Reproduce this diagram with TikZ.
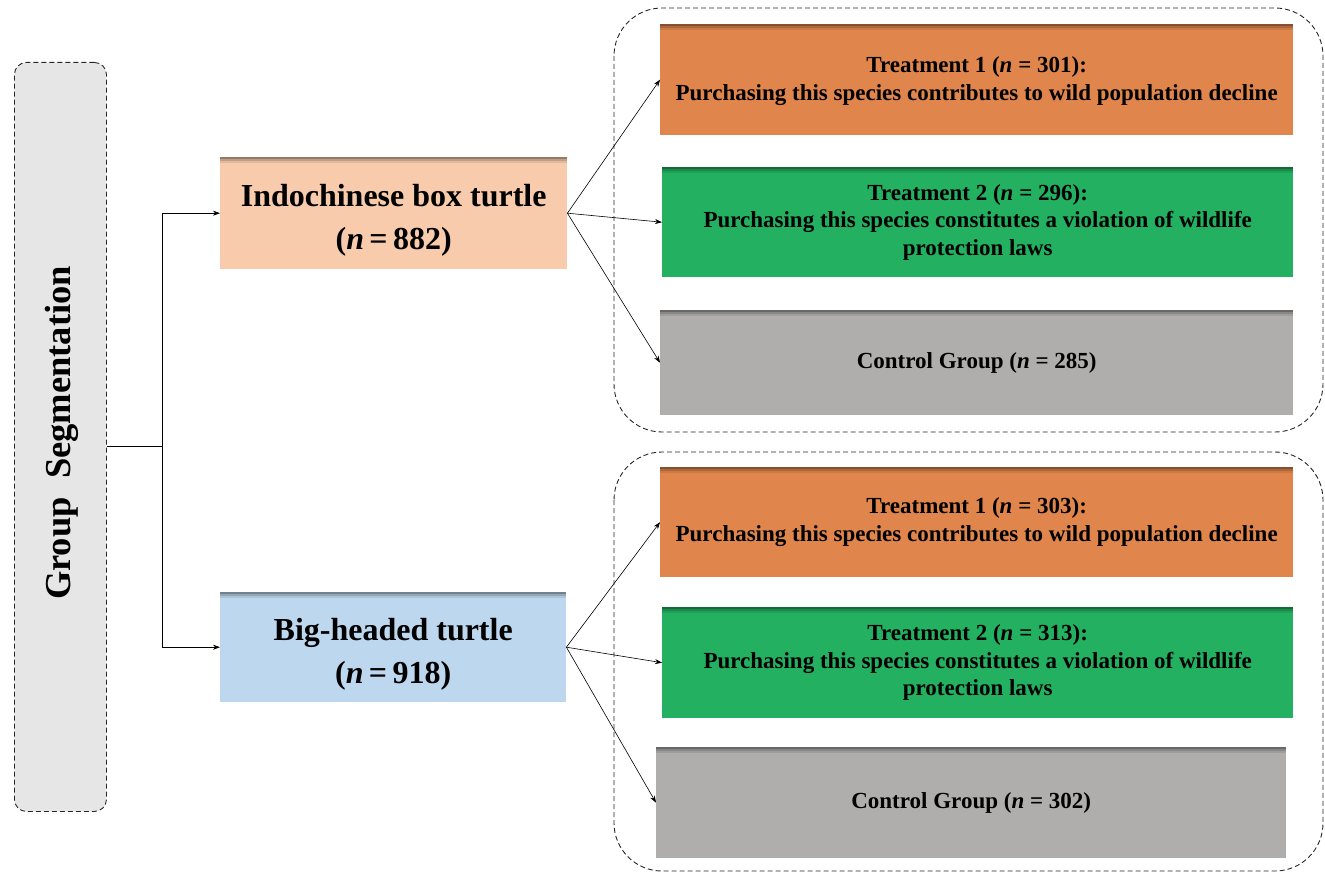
\documentclass[tikz,border=0pt]{standalone}
\usepackage{fontspec}
\setmainfont{Liberation Serif}
\usetikzlibrary{arrows.meta}
\definecolor{cOrange}{RGB}{224,133,76}
\definecolor{cGreen}{RGB}{35,176,96}
\definecolor{cGray}{RGB}{175,174,173}
\definecolor{cPeach}{RGB}{248,203,173}
\definecolor{cBlue}{RGB}{189,215,238}
\definecolor{cLeft}{RGB}{230,230,230}
\tikzset{
  box/.style={draw=none, fill=#1, inner sep=0pt, anchor=north west, align=center,
    path picture={
      \fill[black, opacity=0.40] (path picture bounding box.north west) rectangle ([yshift=-2pt]path picture bounding box.north east);
      \fill[black, opacity=0.22] ([yshift=-2pt]path picture bounding box.north west) rectangle ([yshift=-4pt]path picture bounding box.north east);
      \fill[black, opacity=0.09] ([yshift=-4pt]path picture bounding box.north west) rectangle ([yshift=-6pt]path picture bounding box.north east);}},
  tbox/.style={box=#1, font=\bfseries\fontsize{23}{27.5}\selectfont},
  sbox/.style={box=#1},
  stext/.style={align=center, inner sep=0pt, font=\bfseries\fontsize{32}{43}\selectfont},
  container/.style={draw=black!85, dash pattern=on 5pt off 3pt, line width=0.9pt, rounded corners=48pt},
  conn/.style={draw=black, line width=0.6pt, -{Stealth[length=7pt,width=5pt]}},
}
\begin{document}
\begin{tikzpicture}[x=1pt,y=-1pt]
\useasboundingbox (0,0) rectangle (1325,872);
% left box
\node[draw=black!85, dash pattern=on 5pt off 3pt, line width=0.9pt, fill=cLeft, rounded corners=12pt,
      minimum width=92pt, minimum height=749pt, anchor=north west, inner sep=0pt] (gs) at (14,62) {};
\node[rotate=90, font=\bfseries\fontsize{36.5}{40}\selectfont] (gst) at (62,433) {Group\ \ Segmentation};
% containers
\draw[container] (614,8) rectangle (1323,432);
\draw[container] (614,452) rectangle (1323,871);
% species boxes
\node[sbox=cPeach, minimum width=347pt, minimum height=112pt] (ind) at (220,157) {};
\node[stext] (indt) at ([yshift=-7pt]ind.center) {Indochinese box turtle\\(\textit{n}\,=\,882)};
\node[sbox=cBlue, minimum width=346pt, minimum height=110pt] (big) at (220,592) {};
\node[stext] (bigt) at ([yshift=-7pt]big.center) {Big-headed turtle\\(\textit{n}\,=\,918)};
% treatment boxes, top
\node[tbox=cOrange, minimum width=633pt, minimum height=111pt, text depth=2pt] (t1a) at (660,24)
  {Treatment 1 (\textit{n} = 301):\\Purchasing this species contributes to wild population decline};
\node[tbox=cGreen, minimum width=631pt, minimum height=110pt] (t2a) at (662,167)
  {Treatment 2 (\textit{n} = 296):\\Purchasing this species constitutes a violation of wildlife\\protection laws};
\node[tbox=cGray, minimum width=633pt, minimum height=105pt] (ca) at (660,310)
  {Control Group (\textit{n} = 285)};
% treatment boxes, bottom
\node[tbox=cOrange, minimum width=633pt, minimum height=110pt] (t1b) at (660,467)
  {Treatment 1 (\textit{n} = 303):\\Purchasing this species contributes to wild population decline};
\node[tbox=cGreen, minimum width=631pt, minimum height=111pt] (t2b) at (662,607)
  {Treatment 2 (\textit{n} = 313):\\Purchasing this species constitutes a violation of wildlife\\protection laws};
\node[tbox=cGray, minimum width=630pt, minimum height=111pt] (cb) at (656,747)
  {Control Group (\textit{n} = 302)};
% connectors
\coordinate (j) at (162,446);
\draw[black, line width=0.6pt] (gs.east |- j) -- (j);
\draw[conn] (j) |- (ind.west);
\draw[conn] (j) |- (big.west);
\draw[conn] (ind.east) -- (t1a.west);
\draw[conn] (ind.east) -- (t2a.west);
\draw[conn] (ind.east) -- (ca.west);
\draw[conn] (big.east) -- (t1b.west);
\draw[conn] (big.east) -- (t2b.west);
\draw[conn] (big.east) -- (cb.west);
\end{tikzpicture}
\end{document}
